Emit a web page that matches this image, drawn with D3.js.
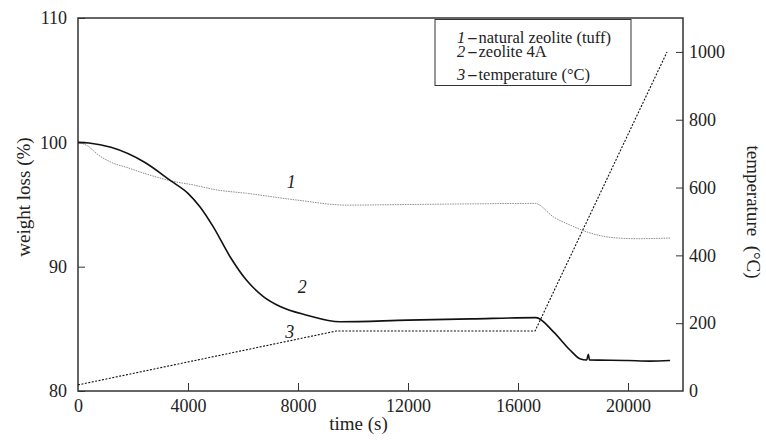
<!DOCTYPE html>
<html>
<head>
<meta charset="utf-8">
<script src="https://cdn.jsdelivr.net/npm/d3@7"></script>
<style>
  body { margin: 0; background: #fff; }
  svg text { font-family: "Liberation Serif", "DejaVu Serif", serif; fill: #222; }
</style>
</head>
<body>
<div class="chart"></div>
<script>
// ----------------------------------
// DATA
// ----------------------------------
// 1 - natural zeolite (tuff), weight %
const tuffTime = [0, 360, 730, 1200, 1820, 2420, 3380, 4240, 4970, 6130, 7950, 9770, 12000, 14300, 16620, 17290, 17890, 18500, 19350, 20300, 21530];
const tuffWeight = [100, 99.7, 99.0, 98.4, 97.95, 97.5, 96.9, 96.55, 96.2, 95.9, 95.36, 94.95, 95.0, 95.05, 95.09, 94.0, 93.35, 92.8, 92.36, 92.25, 92.3];

// 2 - zeolite 4A, weight %
const z4aTime = [0, 400, 1200, 2420, 3380, 4000, 4440, 4920, 5530, 6130, 6740, 7350, 8320, 9530, 12000, 14300, 16650, 17290, 17890, 18250, 18500, 18556, 18600, 20000, 20800, 21530];
const z4aWeight = [100, 99.95, 99.6, 98.4, 96.9, 95.9, 94.8, 93.2, 90.8, 88.9, 87.6, 86.8, 86.1, 85.57, 85.7, 85.8, 85.9, 84.76, 83.3, 82.6, 82.49, 82.95, 82.5, 82.45, 82.4, 82.45];

// 3 - temperature, deg C
const tempTime = [0, 9400, 16620, 21420];
const tempValue = [18, 177, 177, 1000];

const xTicks = [0, 4000, 8000, 12000, 16000, 20000];
const yTicks = [80, 90, 100, 110];
const tTicks = [0, 200, 400, 600, 800, 1000];

const legendItems = [
  { num: '1', text: 'natural zeolite (tuff)' },
  { num: '2', text: 'zeolite 4A' },
  { num: '3', text: 'temperature (°C)' }
];

// ----------------------------------
// SETUP
// ----------------------------------
const width = 766, height = 442,
      margin = { top: 18, right: 83, bottom: 51, left: 78 },
      innerWidth = width - margin.left - margin.right,
      innerHeight = height - margin.top - margin.bottom;

const svg = d3.select('.chart').append('svg')
  .attr('width', width)
  .attr('height', height);

const g = svg.append('g')
  .attr('transform', `translate(${margin.left},${margin.top})`);

const xScale = d3.scaleLinear().domain([0, 22000]).range([0, innerWidth]);
const yScale = d3.scaleLinear().domain([80, 110]).range([innerHeight, 0]);
const tScale = d3.scaleLinear().domain([0, 1100]).range([innerHeight, 0]);

const fmt = d3.format('d');

// ----------------------------------
// AXES (ticks point inward)
// ----------------------------------
const styleAxis = sel => {
  sel.attr('font-size', 18).attr('font-family', null).attr('fill', null);
  sel.selectAll('.domain').remove();
  sel.selectAll('.tick line').attr('stroke', '#333').attr('stroke-width', 1);
  sel.selectAll('.tick text').style('font-size', '18px').attr('fill', '#222');
};

g.append('g')
  .call(d3.axisLeft(yScale).tickValues(yTicks).tickFormat(fmt).tickSizeInner(-7).tickSizeOuter(0).tickPadding(11))
  .call(styleAxis);

g.append('g')
  .attr('transform', `translate(0,${innerHeight})`)
  .call(d3.axisBottom(xScale).tickValues(xTicks).tickFormat(fmt).tickSizeInner(-8).tickSizeOuter(0).tickPadding(8))
  .call(styleAxis)
  .call(s => s.selectAll('.tick').filter(d => d === 0).select('line').remove());

g.append('g')
  .attr('transform', `translate(${innerWidth},0)`)
  .call(d3.axisRight(tScale).tickValues(tTicks).tickFormat(fmt).tickSizeInner(-7).tickSizeOuter(0).tickPadding(6))
  .call(styleAxis)
  .call(s => s.selectAll('.tick').filter(d => d === 0).select('line').remove());

// frame
g.append('rect')
  .attr('width', innerWidth)
  .attr('height', innerHeight)
  .attr('fill', 'none')
  .attr('stroke', '#333')
  .attr('stroke-width', 1.5);

// ----------------------------------
// LINES
// ----------------------------------
const line = (times, vals, scale, curve) => d3.line()
  .x((d, i) => xScale(times[i]))
  .y(d => scale(d))
  .curve(curve)(vals);

g.append('path')
  .attr('d', line(tuffTime, tuffWeight, yScale, d3.curveMonotoneX))
  .attr('fill', 'none')
  .attr('stroke', '#8a8a8a')
  .attr('stroke-width', 1)
  .attr('stroke-dasharray', '1.5,1');

g.append('path')
  .attr('d', line(z4aTime, z4aWeight, yScale, d3.curveMonotoneX))
  .attr('fill', 'none')
  .attr('stroke', '#111')
  .attr('stroke-width', 1.6);

g.append('path')
  .attr('d', line(tempTime, tempValue, tScale, d3.curveLinear))
  .attr('fill', 'none')
  .attr('stroke', '#111')
  .attr('stroke-width', 1.1)
  .attr('stroke-dasharray', '2,1.5');

// curve numbers
const curveLabels = [
  { n: '1', t: 7750, v: 96.8 },
  { n: '2', t: 8150, v: 88.4 },
  { n: '3', t: 7700, v: 84.8 }
];
g.selectAll('.curve-label')
  .data(curveLabels)
  .enter().append('text')
  .attr('x', d => xScale(d.t))
  .attr('y', d => yScale(d.v))
  .attr('dy', '0.35em')
  .attr('text-anchor', 'middle')
  .style('font-size', '18px')
  .style('font-style', 'italic')
  .text(d => d.n);

// ----------------------------------
// LEGEND
// ----------------------------------
const legend = svg.append('g').attr('transform', 'translate(435,19.5)');
legend.append('rect')
  .attr('width', 196).attr('height', 66)
  .attr('fill', '#fff').attr('stroke', '#333').attr('stroke-width', 1);

const baselines = [23, 37.5, 60];
legendItems.forEach((d, i) => {
  const t = legend.append('text').attr('x', 22).attr('y', baselines[i]).style('font-size', '16.5px');
  t.append('tspan').style('font-style', 'italic').text(d.num);
  t.append('tspan').attr('dx', 3).style('font-weight', 'bold').text('–');
  t.append('tspan').attr('dx', 2).text(d.text);
});

// ----------------------------------
// AXIS TITLES
// ----------------------------------
svg.append('text')
  .attr('transform', `translate(30,${197}) rotate(-90)`)
  .attr('text-anchor', 'middle')
  .style('font-size', '19px')
  .text('weight loss (%)');

svg.append('text')
  .attr('transform', `translate(747,${212}) rotate(90)`)
  .attr('text-anchor', 'middle')
  .style('font-size', '19px')
  .attr('xml:space', 'preserve')
  .text('temperature  (°C)');

svg.append('text')
  .attr('x', margin.left + xScale(10200))
  .attr('y', 430)
  .attr('text-anchor', 'middle')
  .style('font-size', '19px')
  .text('time (s)');
</script>
</body>
</html>
